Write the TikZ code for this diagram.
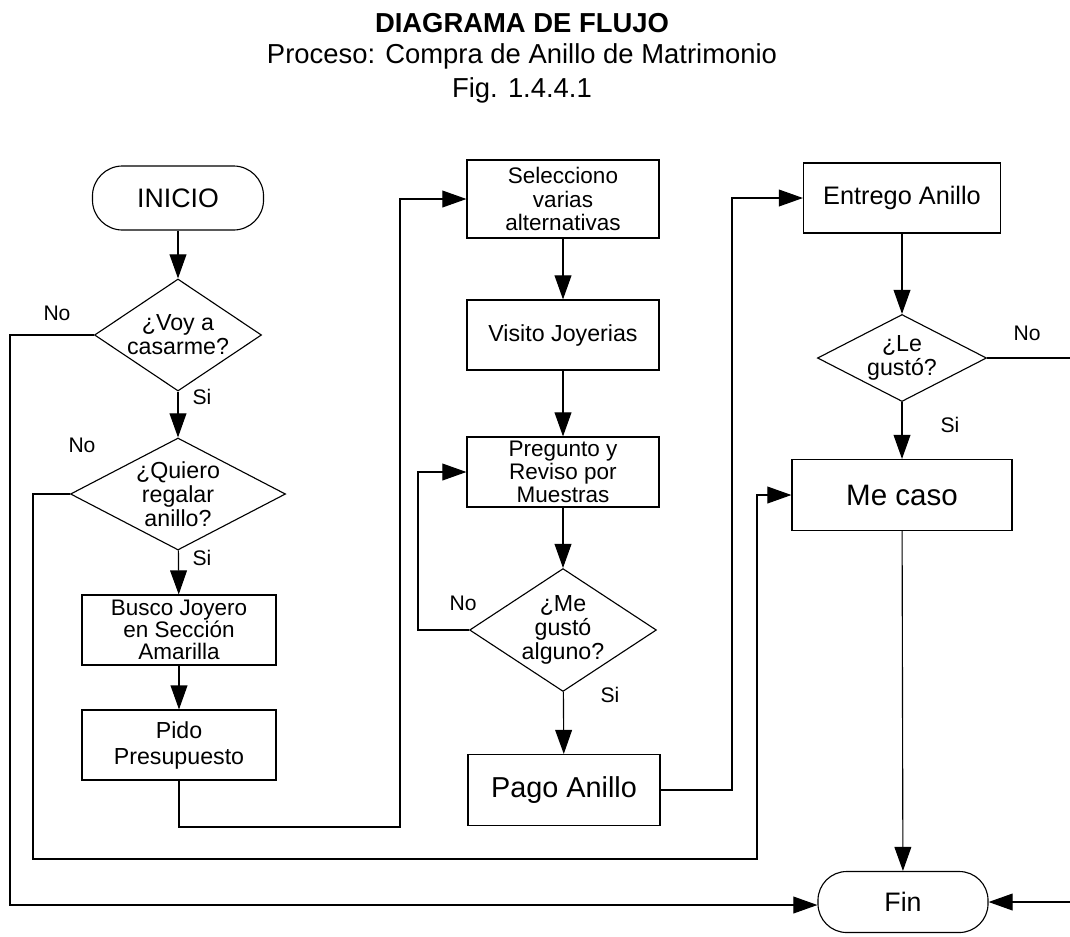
\documentclass[tikz,border=0pt]{standalone}
\usepackage{fontspec}
\setmainfont{Liberation Sans}
\usetikzlibrary{shapes.geometric,arrows.meta}
\tikzset{
  heading/.style={font=\fontsize{19.5}{22}\selectfont, inner sep=0pt},
  endcap/.style={draw, line width=0.8pt, rounded corners=0.75cm, minimum width=4.275cm, minimum height=1.6cm, align=center, font=\fontsize{19}{21}\selectfont},
  stepbox/.style={draw, line width=0.8pt, rectangle, minimum width=4.8cm, minimum height=1.75cm, align=center, inner sep=1pt, font=\fontsize{16}{16.5}\selectfont},
  choice/.style={draw, line width=0.8pt, diamond, inner sep=0pt, align=center, font=\fontsize{16.5}{17}\selectfont},
  answer/.style={font=\fontsize{15}{17}\selectfont, inner sep=0pt},
  flow/.style={line width=0.8pt, -{Triangle[length=0.6cm,width=0.42cm]}},
}

\begin{document}
\begin{tikzpicture}[x=0.025cm, y=-0.025cm]
\useasboundingbox (0,0) rectangle (1070,936);
\node[heading, anchor=base] (title) at (522,32) {\bfseries DIAGRAMA DE FLUJO};
\node[heading, anchor=base] (subtitle) at (522,63) {Proceso: Compra de Anillo de Matrimonio};
\node[heading, anchor=base] (figno) at (522,97) {Fig. 1.4.4.1};
\node[endcap] (inicio) at (178,198) {INICIO};
\node[choice, minimum width=4.175cm, minimum height=2.8cm, aspect=1.49] (casarme) at (178,335) {¿Voy a\\casarme?};
\node[choice, minimum width=5.375cm, minimum height=2.8cm, aspect=1.92] (regalar) at (178,494) {¿Quiero\\regalar\\anillo?};
\node[stepbox, minimum width=4.85cm, font=\fontsize{16}{15.5}\selectfont] (busco) at (179,630) {Busco Joyero\\en Sección\\Amarilla};
\node[stepbox, minimum width=4.85cm, font=\fontsize{16.5}{18.5}\selectfont] (pido) at (179,745) {Pido\\Presupuesto};
\node[stepbox, minimum height=1.95cm] (selecciono) at (563,199) {Selecciono\\varias\\alternativas};
\node[stepbox, font=\fontsize{16.5}{18}\selectfont] (visito) at (563,335) {Visito Joyerias};
\node[stepbox] (pregunto) at (563,472) {Pregunto y\\Reviso por\\Muestras};
\node[choice, minimum width=4.175cm, minimum height=2.75cm, aspect=1.52] (megusto) at (563,630) {¿Me\\gustó\\alguno?};
\node[stepbox, minimum height=1.775cm, font=\fontsize{20.5}{22}\selectfont] (pago) at (564,790) {Pago Anillo};
\node[stepbox, minimum width=4.925cm, font=\fontsize{18}{20}\selectfont] (entrego) at (902,198) {Entrego Anillo};
\node[choice, minimum width=4.225cm, minimum height=2.175cm, aspect=1.94] (legusto) at (902,358) {¿Le\\gustó?};
\node[stepbox, minimum width=5.5cm, minimum height=1.775cm, font=\fontsize{21}{23}\selectfont] (mecaso) at (902,495) {Me caso};
\node[endcap, minimum width=4.25cm, minimum height=1.525cm, rounded corners=0.72cm] (fin) at (903,902) {Fin};
\node[answer] (no1) at (57,313) {No};
\node[answer] (si1) at (202,397) {Si};
\node[answer] (no2) at (82,445) {No};
\node[answer] (si2) at (202,558) {Si};
\node[answer] (no3) at (463,603) {No};
\node[answer] (si3) at (610,695) {Si};
\node[answer] (no4) at (1027,333) {No};
\node[answer] (si4) at (950,425) {Si};
\coordinate (outer) at (10,905);
\coordinate (inner) at (33,859);
\coordinate (joina) at (400,827);
\coordinate (loopa) at (418,630);
\coordinate (joinb) at (732,790);
\coordinate (joinc) at (757,859);
\coordinate (edge) at (1072,358);
\draw[flow] (inicio) -- (casarme);
\draw[flow] (casarme) -- (regalar);
\draw[flow] (regalar) -- (busco);
\draw[flow] (busco) -- (pido);
\draw[flow] (pido.south) |- (joina) |- (selecciono.west);
\draw[flow] (selecciono) -- (visito);
\draw[flow] (visito) -- (pregunto);
\draw[flow] (pregunto) -- (megusto);
\draw[flow] (megusto.west) -- (loopa) |- (pregunto.west);
\draw[flow] (megusto) -- (pago);
\draw[flow] (pago.east) -- (joinb) |- (entrego.west);
\draw[flow] (entrego) -- (legusto);
\draw[flow] (legusto) -- (mecaso);
\draw[flow] (mecaso) -- (fin);
\draw[flow] (legusto.east) -- (edge) |- (fin.east);
\draw[flow] (regalar.west) -| (inner) -| (joinc) |- (mecaso.west);
\draw[flow] (casarme.west) -| (outer) -- (fin.west |- outer);
\end{tikzpicture}
\end{document}
